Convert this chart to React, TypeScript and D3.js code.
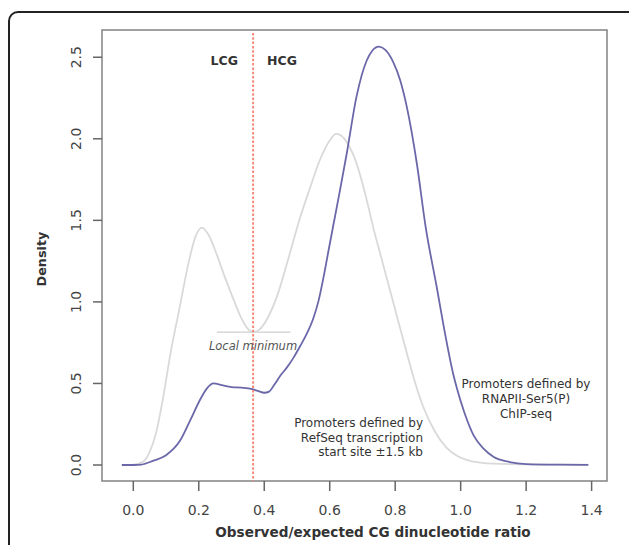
import React from "react";
import * as d3 from "d3";

// density of obs/exp CpG ratio, RefSeq TSS promoters (grey curve)
const refseqX = [-0.035, 0.0, 0.03, 0.05, 0.07, 0.09, 0.115, 0.14, 0.17, 0.19, 0.21, 0.23, 0.255, 0.28, 0.305, 0.33, 0.35, 0.366, 0.385, 0.41, 0.44, 0.47, 0.51, 0.54, 0.57, 0.6, 0.62, 0.645, 0.68, 0.71, 0.735, 0.755, 0.775, 0.795, 0.835, 0.86, 0.885, 0.92, 0.955, 0.99, 1.02, 1.06, 1.1, 1.2, 1.3, 1.39];
const refseqY = [0, 0.003, 0.02, 0.08, 0.2, 0.4, 0.7, 0.95, 1.25, 1.4, 1.455, 1.41, 1.29, 1.15, 1.02, 0.9, 0.835, 0.815, 0.83, 0.9, 1.04, 1.24, 1.52, 1.7, 1.87, 1.99, 2.03, 2.0, 1.86, 1.65, 1.44, 1.29, 1.14, 0.99, 0.69, 0.51, 0.36, 0.21, 0.11, 0.055, 0.03, 0.015, 0.008, 0.004, 0.002, 0.002];

// RNAPII-Ser5(P) ChIP-seq promoters (blue curve)
const polX = [-0.035, 0.0, 0.025, 0.06, 0.1, 0.143, 0.173, 0.204, 0.225, 0.245, 0.27, 0.3, 0.33, 0.356, 0.38, 0.4, 0.415, 0.43, 0.45, 0.47, 0.49, 0.51, 0.53, 0.55, 0.565, 0.58, 0.595, 0.611, 0.63, 0.652, 0.682, 0.713, 0.73, 0.75, 0.77, 0.794, 0.815, 0.835, 0.866, 0.893, 0.927, 0.95, 0.977, 0.99, 1.01, 1.04, 1.07, 1.1, 1.15, 1.2, 1.3, 1.39];
const polY = [0, 0.0, 0.003, 0.025, 0.06, 0.15, 0.27, 0.4, 0.47, 0.5, 0.49, 0.478, 0.475, 0.468, 0.455, 0.443, 0.45, 0.49, 0.55, 0.6, 0.66, 0.73, 0.805, 0.9, 1.0, 1.14, 1.3, 1.47, 1.67, 1.91, 2.26, 2.48, 2.54, 2.565, 2.545, 2.47, 2.36, 2.2, 1.85, 1.46, 1.09, 0.83, 0.56, 0.46, 0.33, 0.18, 0.1, 0.05, 0.018, 0.006, 0.002, 0.001];

const xTicks = [0.0, 0.2, 0.4, 0.6, 0.8, 1.0, 1.2, 1.4];
const yTicks = [0.0, 0.5, 1.0, 1.5, 2.0, 2.5];

const threshold = 0.366;
const localMin = { x0: 0.255, x1: 0.48, y: 0.815 };
const refseqLabel = ["Promoters defined by", "RefSeq transcription", "start site \u00b11.5 kb"];
const polLabel = ["Promoters defined by", "RNAPII-Ser5(P)", "ChIP-seq"];

const FONT = "'DejaVu Sans', 'Open Sans', sans-serif";

export default function App() {
  const W = 629, H = 545;
  const box = { left: 102, right: 607, top: 30, bottom: 481 };

  const x = d3.scaleLinear().domain([-0.0956, 1.447]).range([box.left, box.right]);
  const y = d3.scaleLinear().domain([-0.098, 2.667]).range([box.bottom, box.top]);

  const line = d3.line<[number, number]>()
    .x(d => x(d[0]))
    .y(d => y(d[1]))
    .curve(d3.curveMonotoneX);

  const refseq = refseqX.map((v, i) => [v, refseqY[i]] as [number, number]);
  const pol = polX.map((v, i) => [v, polY[i]] as [number, number]);

  const tx = x(threshold);

  return (
    <svg width={W} height={H} style={{ position: "absolute", left: 0, top: 0, display: "block", background: "#fff" }}>
      {/* outer frame */}
      <rect x={9} y={12} width={628} height={600} rx={9} fill="none" stroke="#222" strokeWidth={2} />

      {/* plot box */}
      <rect x={box.left} y={box.top} width={box.right - box.left} height={box.bottom - box.top}
        fill="none" stroke="#8a8a8a" strokeWidth={1.6} />

      {/* x axis */}
      {xTicks.map(t => (
        <g key={"x" + t}>
          <line x1={x(t)} x2={x(t)} y1={box.bottom} y2={box.bottom + 10} stroke="#666" strokeWidth={1.5} />
          <text x={x(t)} y={515} textAnchor="middle" fontFamily={FONT} fontSize={14} fill="#444">
            {t.toFixed(1)}
          </text>
        </g>
      ))}
      <text x={373} y={537} textAnchor="middle" fontFamily={FONT} fontSize={13.6} fontWeight="bold" fill="#333">
        Observed/expected CG dinucleotide ratio
      </text>

      {/* y axis */}
      {yTicks.map(t => (
        <g key={"y" + t}>
          <line x1={box.left - 9} x2={box.left} y1={y(t)} y2={y(t)} stroke="#666" strokeWidth={1.5} />
          <text transform={`translate(81,${y(t)}) rotate(-90)`} textAnchor="middle" fontFamily={FONT}
            fontSize={14} fill="#444">
            {t.toFixed(1)}
          </text>
        </g>
      ))}
      <text transform="translate(46,259) rotate(-90)" textAnchor="middle" fontFamily={FONT} fontSize={12.8}
        fontWeight="bold" fill="#333">
        Density
      </text>

      {/* local minimum marker */}
      <line x1={x(localMin.x0)} x2={x(localMin.x1)} y1={y(localMin.y)} y2={y(localMin.y)} stroke="#cfcfcf" strokeWidth={1.2} />

      {/* density curves */}
      <path d={line(refseq) ?? ""} fill="none" stroke="#d9d9d9" strokeWidth={1.8} />
      <path d={line(pol) ?? ""} fill="none" stroke="#6b68a9" strokeWidth={1.8} />

      {/* LCG / HCG threshold */}
      <line x1={tx} x2={tx} y1={box.top + 3} y2={box.bottom} stroke="#f38a7c" strokeWidth={2} strokeDasharray="2.5,1.8" />
      <text x={238} y={65} textAnchor="end" fontFamily={FONT} fontSize={12.5} fontWeight="bold" fill="#333">LCG</text>
      <text x={267} y={65} textAnchor="start" fontFamily={FONT} fontSize={12.5} fontWeight="bold" fill="#333">HCG</text>

      <text x={253} y={350} textAnchor="middle" fontFamily={FONT} fontSize={11.5} fontStyle="italic" fill="#555">
        Local minimum
      </text>

      {refseqLabel.map((s, i) => (
        <text key={"r" + i} x={423} y={427 + i * 14.5} textAnchor="end" fontFamily={FONT} fontSize={12} fill="#333">{s}</text>
      ))}
      {polLabel.map((s, i) => (
        <text key={"p" + i} x={526} y={388 + i * 15} textAnchor="middle" fontFamily={FONT} fontSize={12} fill="#333">{s}</text>
      ))}
    </svg>
  );
}
